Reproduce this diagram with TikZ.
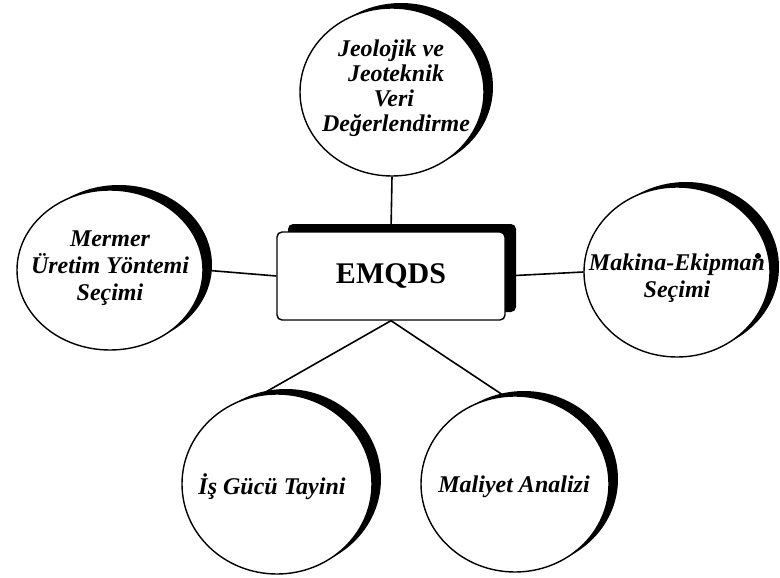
\documentclass[tikz,border=0pt]{standalone}
\usepackage{fontspec}
\setmainfont{Liberation Serif}
\usetikzlibrary{shapes.geometric,shadows}
\begin{document}
\begin{tikzpicture}[x=1pt,y=-1pt,
  bubble/.style={ellipse, draw=black, line width=1.4pt, fill=white, inner sep=0pt,
     drop shadow={shadow xshift=9pt, shadow yshift=5pt, fill=black, opacity=1}},
  txt/.style={align=center, inner sep=0pt, font=\fontsize{24}{25}\selectfont\bfseries\itshape},
  txtwide/.style={txt, font=\fontsize{24}{27}\selectfont\bfseries\itshape},
  hub/.style={rectangle, rounded corners=5pt, draw=black, line width=1.4pt, fill=white,
     minimum width=228pt, minimum height=88pt, font=\fontsize{30}{30}\selectfont\bfseries,
     drop shadow={shadow xshift=11pt, shadow yshift=8pt, fill=black, opacity=1}},
  link/.style={line width=1.6pt}]
\useasboundingbox (0,0) rectangle (780,578);
% nodes
\node[hub] (hub) at (391,276) {EMQDS};
\node[bubble, minimum width=184pt, minimum height=168pt] (T) at (392,92) {};
\node[bubble, minimum width=186pt, minimum height=160pt] (L) at (110,270) {};
\node[bubble, minimum width=186pt, minimum height=170pt] (R) at (677,272) {};
\node[bubble, minimum width=190pt, minimum height=180pt] (B1) at (277,484) {};
\node[bubble, minimum width=188pt, minimum height=176pt] (B2) at (515,484) {};
% texts
\node[txt] (Tt) at (394,88) {Jeolojik ve\hspace*{6pt}\\\hspace*{4pt}Jeoteknik\\Veri\hspace*{22pt}\\\hspace*{4pt}Değerlendirme};
\node[txtwide] (Lt) at (110,268) {Mermer\\Üretim Yöntemi\\Seçimi};
\node[txtwide] (Rt) at (677,278) {Makina-Ekipman\\Seçimi};
\node[txt] (B1t) at (272,487) {İş Gücü Tayini};
\node[txt] (B2t) at (514,487) {Maliyet Analizi};
% connectors
\draw[link] (T.south) -- (hub.north);
\draw[link] (L.east) -- (hub.west);
\draw[link] (hub.east) -- (R.west);
\draw[link] (hub.south) -- (B1.100);
\draw[link] (hub.south) -- (B2.97);
% stray dot
\fill (758,256) circle (3pt);
\end{tikzpicture}
\end{document}
